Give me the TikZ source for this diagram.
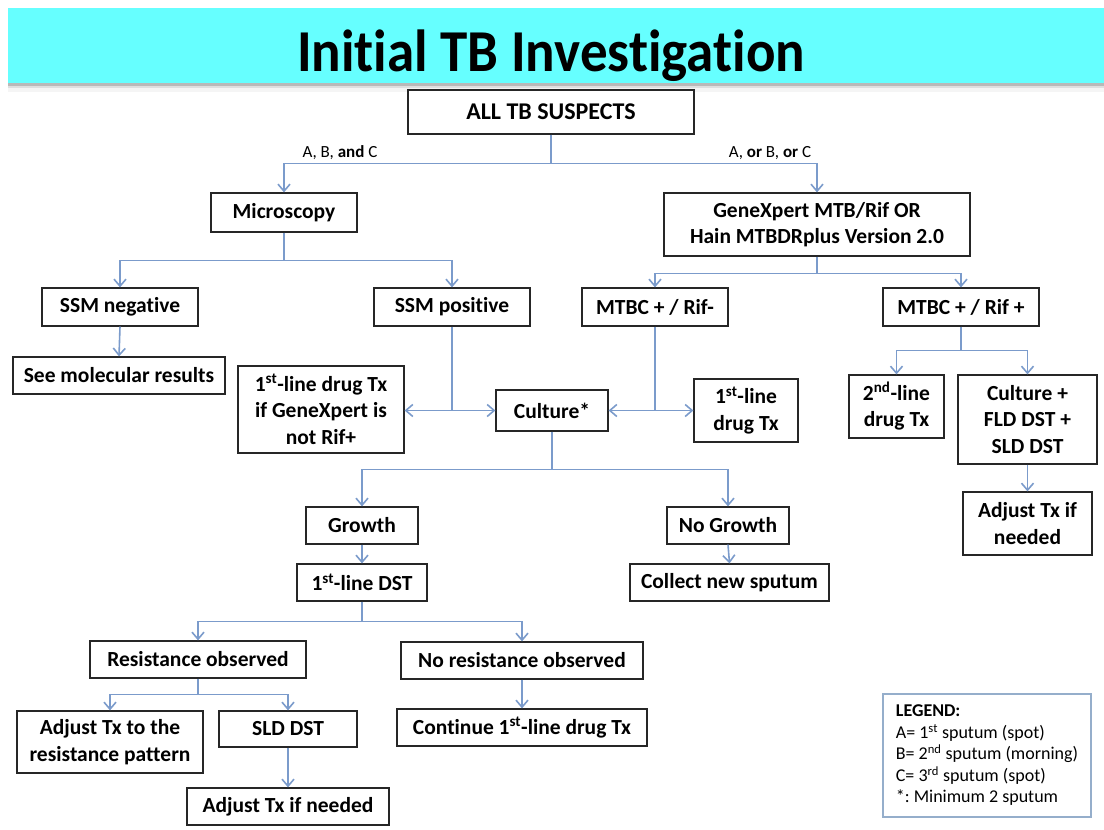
\documentclass[tikz,border=0pt]{standalone}
\usepackage{fontspec}
\setmainfont{Carlito}[Ligatures={NoCommon}]
\usetikzlibrary{arrows.meta}
\definecolor{banner}{HTML}{66FFFF}
\definecolor{linkblue}{HTML}{7B9BCB}
\definecolor{legendline}{HTML}{95AECB}
\definecolor{boxline}{HTML}{262626}
\begin{document}
\begin{tikzpicture}[x=1pt,y=-1pt,
  box/.style={draw=boxline,line width=1.2pt,fill=white,align=center,inner sep=0pt,
    font=\fontsize{21.5}{26.5}\selectfont\bfseries},
  link/.style={draw=linkblue,line width=1.6pt},
  arr/.style={link,-{Straight Barb[length=7pt,width=12pt]}},
  branchlabel/.style={font=\fontsize{17}{19}\selectfont,anchor=base},
]
\useasboundingbox (0,0) rectangle (1104,830);

% title banner with soft shadow
\fill[gray!55] (8,83) rectangle (1104,85.5);
\fill[gray!25] (8,85.5) rectangle (1104,88);
\fill[gray!8] (8,88) rectangle (1104,92);
\fill[banner] (8,8) rectangle (1104,83);
\node[font=\fontsize{55}{60}\selectfont\bfseries,anchor=base] (title) at (551,71)
  {\scalebox{1}[1.08]{Initial TB Investigation}};

% boxes
\node[box,minimum width=286pt,minimum height=44pt,font=\fontsize{24}{28}\selectfont\bfseries] (all) at (551,112) {ALL TB SUSPECTS};
\node[box,minimum width=146pt,minimum height=39pt] (micro) at (284,212.5) {Microscopy};
\node[box,minimum width=306pt,minimum height=63pt] (gene) at (817,224.5) {GeneXpert MTB/Rif OR\\Hain MTBDRplus Version 2.0};
\node[box,minimum width=156pt,minimum height=38pt] (ssmneg) at (120,307) {SSM negative};
\node[box,minimum width=156pt,minimum height=38pt] (ssmpos) at (452,307) {SSM positive};
\node[box,minimum width=146pt,minimum height=38pt] (rifneg) at (655,307) {MTBC + / Rif-};
\node[box,minimum width=156pt,minimum height=38pt] (rifpos) at (961,307) {MTBC + / Rif +};
\node[box,minimum width=212pt,minimum height=37pt] (seemol) at (119,375.5) {See molecular results};
\node[box,minimum width=166pt,minimum height=87pt] (firstA) at (321,409.5) {1\textsuperscript{st}-line drug Tx\\if GeneXpert is\\not Rif+};
\node[box,minimum width=112pt,minimum height=41pt] (culture) at (552,410.5) {Culture*};
\node[box,minimum width=104pt,minimum height=63pt] (firstB) at (746,410.5) {1\textsuperscript{st}-line\\drug Tx};
\node[box,minimum width=95pt,minimum height=63pt] (second) at (896.5,406.5) {2\textsuperscript{nd}-line\\drug Tx};
\node[box,minimum width=139pt,minimum height=89pt] (cfld) at (1027.5,419.5) {Culture +\\FLD DST +\\SLD DST};
\node[box,minimum width=129pt,minimum height=63pt] (adjR) at (1027.5,523.5) {Adjust Tx if\\needed};
\node[box,minimum width=112pt,minimum height=37pt] (growth) at (362,525.5) {Growth};
\node[box,minimum width=122pt,minimum height=37pt] (nogrowth) at (728,525.5) {No Growth};
\node[box,minimum width=130pt,minimum height=37pt] (dst) at (362,582.5) {1\textsuperscript{st}-line DST};
\node[box,minimum width=199pt,minimum height=37pt] (collect) at (729.5,582.5) {Collect new sputum};
\node[box,minimum width=216pt,minimum height=37pt] (resobs) at (198,659.5) {Resistance observed};
\node[box,minimum width=242pt,minimum height=37pt] (nores) at (522,660.5) {No resistance observed};
\node[box,minimum width=186pt,minimum height=62pt] (adjpat) at (110,742) {Adjust Tx to the\\resistance pattern};
\node[box,minimum width=138pt,minimum height=36pt] (sld) at (288,729) {SLD DST};
\node[box,minimum width=250pt,minimum height=37pt] (cont) at (522,727.5) {Continue 1\textsuperscript{st}-line drug Tx};
\node[box,minimum width=202pt,minimum height=37pt] (adjB) at (288,806.5) {Adjust Tx if needed};

% branch labels
\node[branchlabel] (lblall) at (340,157) {A, B, \textbf{and} C};
\node[branchlabel] (lblany) at (770,157) {A, \textbf{or} B, \textbf{or} C};

% connectors
\path (all.south) ++(0,29) coordinate (jall);
\draw[link] (all.south) -- (jall);
\draw[arr] (jall) -| (micro.north);
\draw[arr] (jall) -| (gene.north);

\path (micro.south) ++(0,28) coordinate (jmic);
\draw[link] (micro.south) -- (jmic);
\draw[arr] (jmic) -| (ssmneg.north);
\draw[arr] (jmic) -| (ssmpos.north);

\path (gene.south) ++(0,17) coordinate (jgene);
\draw[link] (gene.south) -- (jgene);
\draw[arr] (jgene) -| (rifneg.north);
\draw[arr] (jgene) -| (rifpos.north);

\draw[arr] (ssmneg.south) -- (seemol.north);

\coordinate (jpos) at (ssmpos.south |- culture.west);
\draw[link] (ssmpos.south) -- (jpos);
\draw[arr] (jpos) -- (firstA.east |- jpos);
\draw[arr] (jpos) -- (culture.west);

\coordinate (jneg) at (rifneg.south |- culture.east);
\draw[link] (rifneg.south) -- (jneg);
\draw[arr] (jneg) -- (culture.east);
\draw[arr] (jneg) -- (firstB.west |- jneg);

\path (rifpos.south) ++(0,24) coordinate (jrif);
\draw[link] (rifpos.south) -- (jrif);
\draw[arr] (jrif) -| (second.north);
\draw[arr] (jrif) -| (cfld.north);
\draw[arr] (cfld.south) -- (adjR.north);

\path (culture.south) ++(0,38) coordinate (jcul);
\draw[link] (culture.south) -- (jcul);
\draw[arr] (jcul) -| (growth.north);
\draw[arr] (jcul) -| (nogrowth.north);
\draw[arr] (growth.south) -- (dst.north);
\draw[arr] (nogrowth.south) -- (collect.north);

\path (dst.south) ++(0,20) coordinate (jdst);
\draw[link] (dst.south) -- (jdst);
\draw[arr] (jdst) -| (resobs.north);
\draw[arr] (jdst) -| (nores.north);

\path (resobs.south) ++(0,16) coordinate (jres);
\draw[link] (resobs.south) -- (jres);
\draw[arr] (jres) -| (adjpat.north);
\draw[arr] (jres) -| (sld.north);
\draw[arr] (nores.south) -- (cont.north);
\draw[arr] (sld.south) -- (adjB.north);

% legend
\node[draw=legendline,line width=1.2pt,minimum width=208pt,minimum height=123pt,
  align=left,inner sep=0pt,
  font=\fontsize{18}{21.5}\selectfont] (legend) at (987,755.5)
  {\textbf{LEGEND:}\\
   A= 1\textsuperscript{st} sputum\ (spot)\\
   B= 2\textsuperscript{nd} sputum\ (morning)\\
   C= 3\textsuperscript{rd} sputum\ (spot)\\
   {*}:\ Minimum\ 2 sputum};
\end{tikzpicture}
\end{document}
